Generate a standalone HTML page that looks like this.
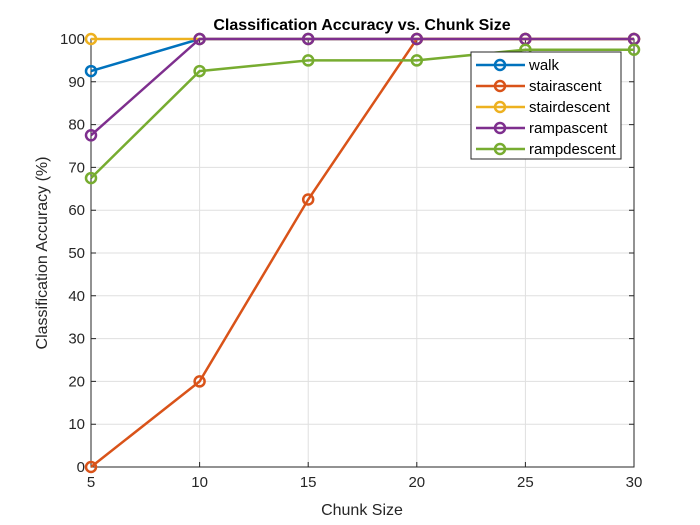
<!DOCTYPE html>
<html><head><meta charset="utf-8"><style>
body{margin:0;background:#fff}
svg{display:block;font-family:"Liberation Sans",Arial,sans-serif}
</style></head><body>
<svg id="chart" width="700" height="525">
<rect x="0" y="0" width="700" height="525" fill="#fff"/>
<rect x="91" y="39" width="543" height="428" fill="#fff"/>
<g id="grid"></g>
<g id="axes"></g>
<g id="series"></g>
<text x="362" y="30" text-anchor="middle" font-size="16" font-weight="bold" fill="#000">Classification Accuracy vs. Chunk Size</text>
<text x="362" y="515" text-anchor="middle" font-size="16" fill="#262626">Chunk Size</text>
<text transform="translate(47,253) rotate(-90)" text-anchor="middle" font-size="16" fill="#262626">Classification Accuracy (%)</text>
<g id="legend"></g>
</svg>
<script>
const chunkSizes=[5,10,15,20,25,30];
const seriesNames=["walk","stairascent","stairdescent","rampascent","rampdescent"];
const walk=[92.5,100,100,100,100,100];
const stairascent=[0,20,62.5,100,100,100];
const stairdescent=[100,100,100,100,100,100];
const rampascent=[77.5,100,100,100,100,100];
const rampdescent=[67.5,92.5,95,95,97.5,97.5];
const xTicks=[5,10,15,20,25,30];
const yTicks=[0,10,20,30,40,50,60,70,80,90,100];

const colors=["#0072BD","#D95319","#EDB120","#7E2F8E","#77AC30"];
const allSeries=[walk,stairascent,stairdescent,rampascent,rampdescent];
const X0=91,X1=634,Y0=467,Y1=39;
const xs=v=>X0+(v-5)/(30-5)*(X1-X0);
const ys=v=>Y0-(v-0)/(100-0)*(Y0-Y1);
const NS="http://www.w3.org/2000/svg";
function mk(tag,attrs,parent){const e=document.createElementNS(NS,tag);for(const k in attrs)e.setAttribute(k,attrs[k]);parent.appendChild(e);return e;}
const grid=document.getElementById('grid'),axes=document.getElementById('axes'),ser=document.getElementById('series'),leg=document.getElementById('legend');
xTicks.forEach(t=>{
 const l=mk('line',{x1:xs(t),x2:xs(t),y1:Y1,y2:Y0,stroke:'#dfdfdf','stroke-width':1},grid);
 
 
 const tk=mk('path',{d:`M${xs(t)},${Y0}v-5M${xs(t)},${Y1}v5`,stroke:'#262626'},axes);
 
 
 const tx=mk('text',{x:xs(t),y:Y0+20,'text-anchor':'middle','font-size':15,fill:'#262626'},axes);
 tx.textContent=t;
 
 
});
yTicks.forEach(t=>{
 const l=mk('line',{x1:X0,x2:X1,y1:ys(t),y2:ys(t),stroke:'#dfdfdf','stroke-width':1},grid);
 
 
 const tk=mk('path',{d:`M${X0},${ys(t)}h5M${X1},${ys(t)}h-5`,stroke:'#262626'},axes);
 
 
 const tx=mk('text',{x:X0-6,y:ys(t)+5,'text-anchor':'end','font-size':15,fill:'#262626'},axes);
 tx.textContent=t;
 
 
});
const ax=mk('rect',{x:X0,y:Y1,width:X1-X0,height:Y0-Y1,fill:'none',stroke:'#262626','stroke-width':1},axes);


allSeries.forEach((vals,i)=>{
 const g=mk('g',{},ser);
 
 
 const pl=mk('polyline',{points:vals.map((v,j)=>xs(chunkSizes[j])+','+ys(v)).join(' '),fill:'none',stroke:colors[i],'stroke-width':2.5},g);
 
 
 vals.forEach((v,j)=>{
  const c=mk('circle',{cx:xs(chunkSizes[j]),cy:ys(v),r:5,fill:'none',stroke:colors[i],'stroke-width':2.5},g);
  
  
 });
});
const box=mk('rect',{x:471,y:52,width:150,height:107,fill:'#fff',stroke:'#262626','stroke-width':1},leg);


seriesNames.forEach((n,i)=>{
 const y=65+i*21;
 const g=mk('g',{},leg);
 
 
 mk('line',{x1:476,x2:525,y1:y,y2:y,stroke:colors[i],'stroke-width':2.5},g);
 mk('circle',{cx:500,cy:y,r:5,fill:'none',stroke:colors[i],'stroke-width':2.5},g);
 const t=mk('text',{x:529,y:y+5,'font-size':15,fill:'#000'},g);
 t.textContent=n;
});
</script>
</body></html>
